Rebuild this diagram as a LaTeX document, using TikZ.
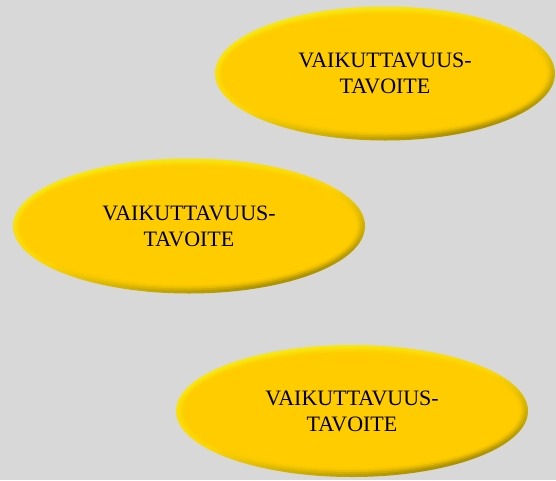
\documentclass[tikz,border=0pt]{standalone}
\usepackage{fontspec}
\setmainfont{Liberation Serif}
\usetikzlibrary{shapes.geometric,calc}
\definecolor{bg}{HTML}{D8D8D8}
\definecolor{gold}{HTML}{FFCC00}
\definecolor{rimtop}{HTML}{F7EA10}
\definecolor{rimbot}{HTML}{A08800}
\tikzset{
  x=1pt,y=1pt,
  goal/.style={ellipse, inner sep=0pt, align=center,
    top color=rimtop, bottom color=rimbot, middle color=gold!70!rimtop,
    shading angle=15,
    font=\fontsize{22}{26}\selectfont, text=black,
    path picture={
      \foreach \d/\o in {3/0.3,5/0.5,7/0.75,9/1}{
        \fill[gold, opacity=\o] let \p1=(path picture bounding box.south west),
          \p2=(path picture bounding box.north east) in
          ({(\x1+\x2)/2},{(\y1+\y2)/2}) ellipse ({(\x2-\x1)/2-\d pt} and {(\y2-\y1)/2-\d pt});
      }
    }}
}
\begin{document}
\begin{tikzpicture}
\fill[bg] (0,0) rectangle (556,-480);
\useasboundingbox (0,0) rectangle (556,-480);
\node[goal, minimum width=340pt, minimum height=134pt] (g1) at (385,-73.5) {VAIKUTTAVUUS-\\TAVOITE};
\node[goal, minimum width=352pt, minimum height=135pt] (g2) at (189,-226) {VAIKUTTAVUUS-\\TAVOITE};
\node[goal, minimum width=352pt, minimum height=132pt] (g3) at (352,-411) {VAIKUTTAVUUS-\\TAVOITE};
\end{tikzpicture}
\end{document}
